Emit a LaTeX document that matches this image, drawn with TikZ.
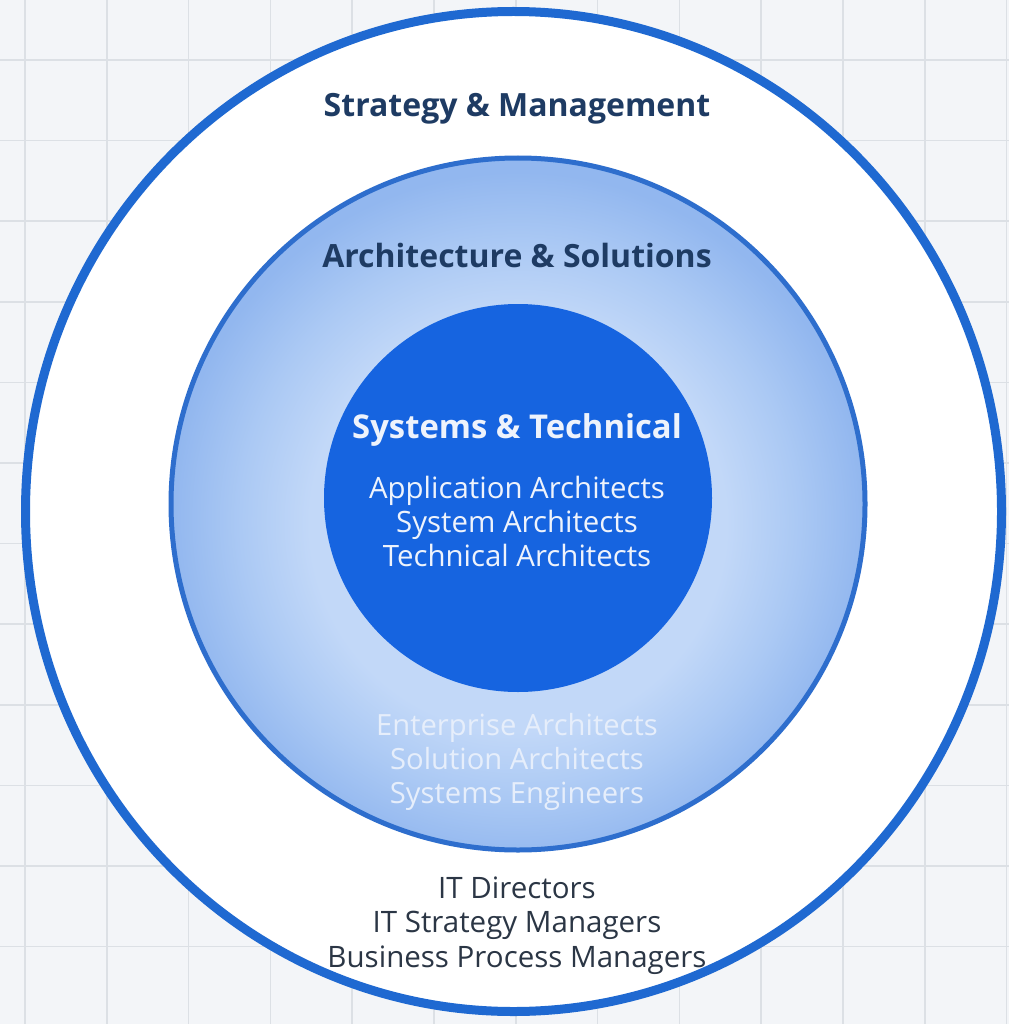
\documentclass[tikz,border=0pt]{standalone}
\usepackage{fontspec}
\setmainfont{Open Sans}
\definecolor{bgc}{HTML}{F3F5F8}
\definecolor{gridc}{HTML}{DCE0E5}
\definecolor{ringblue}{HTML}{1F69D1}
\definecolor{midblue}{HTML}{2E6ECD}
\definecolor{coreblue}{HTML}{1664E0}
\definecolor{midlight}{HTML}{C2D8F8}
\definecolor{midmid}{HTML}{ABC9F4}
\definecolor{middark}{HTML}{92B7EF}
\definecolor{navy}{HTML}{1E3B63}
\definecolor{coretext}{HTML}{EEF3FC}
\definecolor{midtext}{HTML}{E6EEFB}
\definecolor{outtext}{HTML}{2B3645}
\pgfdeclareradialshading{ringshade}{\pgfpoint{0bp}{-2bp}}{%
  color(0bp)=(midlight); color(15bp)=(midlight); color(20bp)=(midmid); color(25bp)=(middark); color(50bp)=(middark)}
\tikzset{
  headtext/.style={font=\bfseries\fontsize{32}{38}\selectfont, text=navy, inner sep=0pt, anchor=base},
  coretitle/.style={font=\bfseries\fontsize{32.8}{38}\selectfont, text=coretext, inner sep=0pt, anchor=base},
  corelist/.style={font=\fontsize{29.4}{34}\selectfont, text=coretext, inner sep=0pt, anchor=base},
  midlist/.style={font=\fontsize{29.2}{34}\selectfont, text=midtext, inner sep=0pt, anchor=base},
  outlist/.style={font=\fontsize{29.5}{34}\selectfont, text=outtext, inner sep=0pt, anchor=base},
  gridline/.style={draw=gridc, line width=1.5pt}
}
\begin{document}
\begin{tikzpicture}[x=1pt,y=-1pt]
\useasboundingbox (0,0) rectangle (1009,1024);
\fill[bgc] (0,0) rectangle (1009,1024);
\foreach \i in {0,...,12} \draw[gridline] ({25+81.8*\i},0) -- ({25+81.8*\i},1024);
\foreach \j in {0,...,12} \draw[gridline] (0,{60+80.6*\j}) -- (1009,{60+80.6*\j});
% outer ring
\draw[ringblue, line width=9pt, fill=white] (513.5,511.5) ellipse [x radius=488pt, y radius=500pt];
% middle ring
\shade[shading=ringshade] (518,504) ellipse [x radius=347pt, y radius=346pt];
\draw[midblue, line width=5pt] (518,504) ellipse [x radius=347pt, y radius=346pt];
% core
\fill[coreblue] (518,498) circle [radius=194pt];
% texts
\node[headtext] (sm) at (517,117) {Strategy \& Management};
\node[headtext] (as) at (517,267) {Architecture \& Solutions};
\node[coretitle] (st) at (517,438) {Systems \& Technical};
\node[corelist] (c1) at (517,498) {Application Architects};
\node[corelist] (c2) at (517,532) {System Architects};
\node[corelist] (c3) at (517,566.5) {Technical Architects};
\node[midlist] (m1) at (517,735) {Enterprise Architects};
\node[midlist] (m2) at (517,769.5) {Solution Architects};
\node[midlist] (m3) at (517,803.5) {Systems Engineers};
\node[outlist] (o1) at (517,898) {IT Directors};
\node[outlist] (o2) at (517,932) {IT Strategy Managers};
\node[outlist] (o3) at (517,967) {Business Process Managers};
\end{tikzpicture}
\end{document}
